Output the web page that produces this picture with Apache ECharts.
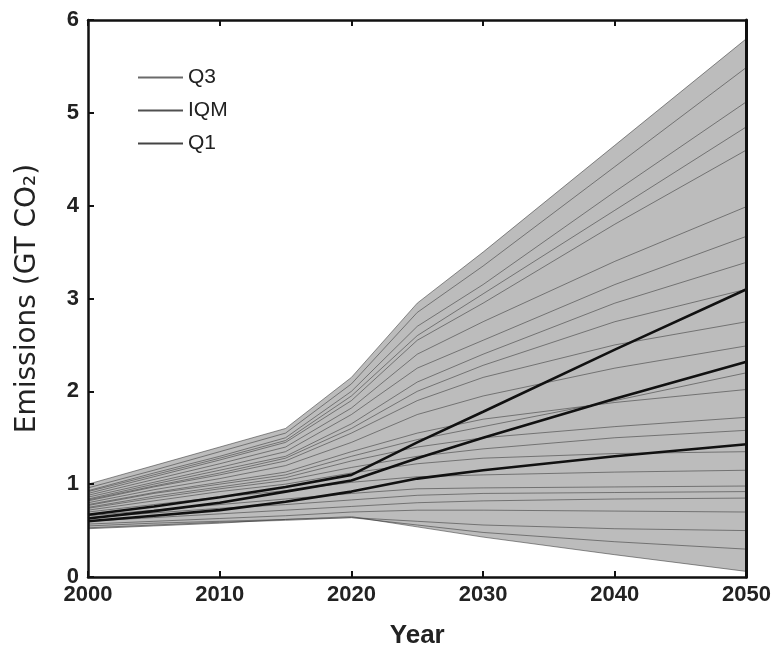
<!DOCTYPE html>
<html>
<head>
<meta charset="utf-8">
<script src="https://cdn.jsdelivr.net/npm/echarts@6/dist/echarts.min.js"></script>
<style>html,body{margin:0;padding:0;background:#fff;}#c{width:774px;height:654px;}</style>
</head>
<body>
<div id="c"></div>
<script>
const years = [2000, 2005, 2010, 2015, 2020, 2025, 2030, 2040, 2050];
const xTicks = [2000, 2010, 2020, 2030, 2040, 2050];
const yTicks = [0, 1, 2, 3, 4, 5, 6];

const envelopeUpper = [1.00, 1.20, 1.40, 1.60, 2.15, 2.95, 3.50, 4.65, 5.80];
const envelopeLower = [0.52, 0.55, 0.58, 0.62, 0.65, 0.54, 0.43, 0.24, 0.06];

const q3  = [0.67, 0.76, 0.86, 0.97, 1.10, 1.45, 1.78, 2.45, 3.10];
const iqm = [0.63, 0.71, 0.80, 0.92, 1.04, 1.28, 1.50, 1.92, 2.32];
const q1  = [0.60, 0.66, 0.72, 0.81, 0.92, 1.06, 1.15, 1.30, 1.43];

const s1  = [1.00, 1.20, 1.40, 1.60, 2.15, 2.95, 3.50, 4.65, 5.80];
const s2  = [0.96, 1.15, 1.35, 1.55, 2.08, 2.85, 3.35, 4.42, 5.49];
const s3  = [0.93, 1.12, 1.30, 1.50, 2.00, 2.70, 3.15, 4.15, 5.12];
const s4  = [0.92, 1.10, 1.28, 1.47, 1.95, 2.60, 3.05, 3.95, 4.85];
const s5  = [0.90, 1.08, 1.26, 1.45, 1.90, 2.55, 2.95, 3.80, 4.60];
const s6  = [0.88, 1.05, 1.22, 1.40, 1.82, 2.40, 2.75, 3.40, 3.99];
const s7  = [0.86, 1.02, 1.18, 1.35, 1.75, 2.25, 2.55, 3.15, 3.67];
const s8  = [0.84, 1.00, 1.15, 1.30, 1.65, 2.10, 2.40, 2.95, 3.39];
const s9  = [0.83, 0.98, 1.12, 1.28, 1.60, 2.00, 2.28, 2.75, 3.10];
const s10 = [0.82, 0.97, 1.10, 1.25, 1.55, 1.90, 2.15, 2.50, 2.75];
const s11 = [0.80, 0.94, 1.06, 1.20, 1.45, 1.75, 1.95, 2.25, 2.49];
const s12 = [0.77, 0.90, 1.00, 1.10, 1.30, 1.48, 1.62, 1.90, 2.20];
const s13 = [0.78, 0.91, 1.02, 1.13, 1.35, 1.55, 1.70, 1.88, 2.02];
const s14 = [0.75, 0.87, 0.97, 1.07, 1.25, 1.40, 1.50, 1.62, 1.72];
const s15 = [0.74, 0.85, 0.95, 1.04, 1.18, 1.30, 1.38, 1.50, 1.58];
const s16 = [0.72, 0.82, 0.92, 1.00, 1.12, 1.22, 1.28, 1.33, 1.35];
const s17 = [0.70, 0.78, 0.86, 0.93, 1.02, 1.08, 1.10, 1.13, 1.15];
const s18 = [0.66, 0.72, 0.78, 0.84, 0.90, 0.95, 0.96, 0.97, 0.98];
const s19 = [0.64, 0.69, 0.74, 0.78, 0.83, 0.88, 0.90, 0.91, 0.92];
const s20 = [0.60, 0.64, 0.68, 0.72, 0.76, 0.80, 0.82, 0.84, 0.85];
const s21 = [0.57, 0.60, 0.63, 0.66, 0.70, 0.72, 0.72, 0.71, 0.70];
const s22 = [0.55, 0.58, 0.60, 0.62, 0.64, 0.60, 0.56, 0.52, 0.50];
const s23 = [0.53, 0.56, 0.59, 0.61, 0.64, 0.56, 0.48, 0.38, 0.30];
const s24 = [0.52, 0.55, 0.58, 0.62, 0.65, 0.54, 0.43, 0.24, 0.06];

const scenarios = [s1,s2,s3,s4,s5,s6,s7,s8,s9,s10,s11,s12,s13,s14,s15,s16,s17,s18,s19,s20,s21,s22,s23,s24];

const pairs = arr => years.map((y, i) => [y, arr[i]]);
const FONT = '"Liberation Sans", Arial, sans-serif';

const series = [];
// envelope: gray area under the upper bound, white area under the lower bound
series.push({
  type: 'line', data: pairs(envelopeUpper), symbol: 'none', silent: true, z: 1,
  lineStyle: { width: 0 }, areaStyle: { color: '#bcbcbc', opacity: 1 }
});
series.push({
  type: 'line', data: pairs(envelopeLower), symbol: 'none', silent: true, z: 1.5,
  lineStyle: { width: 0 }, areaStyle: { color: '#ffffff', opacity: 1 }
});
scenarios.forEach(s => series.push({
  type: 'line', data: pairs(s), symbol: 'none', silent: true, z: 2,
  lineStyle: { color: '#333', width: 0.9, opacity: 0.6 }
}));
const bold = [['Q3', q3], ['IQM', iqm], ['Q1', q1]];
bold.forEach(([n, d]) => series.push({
  name: n, type: 'line', data: pairs(d), symbol: 'none', z: 3,
  lineStyle: { color: '#111', width: 2.6 }, itemStyle: { color: '#111' }
}));

const axisLineStyle = { show: true, onZero: false, lineStyle: { color: '#111', width: 2.5 } };
const tickStyle = { show: true, inside: true, length: 6, lineStyle: { color: '#111', width: 2 } };

const chart = echarts.init(document.getElementById('c'));
chart.setOption({
  animation: false,
  backgroundColor: '#fff',
  grid: { left: 88, right: 26, top: 20, bottom: 75 },
  legend: {
    data: [
      { name: 'Q3', itemStyle: { color: '#6a6a6a' } },
      { name: 'IQM', itemStyle: { color: '#505050' } },
      { name: 'Q1', itemStyle: { color: '#444' } }
    ],
    orient: 'vertical', left: 133, top: 62, itemWidth: 45, itemHeight: 20, itemGap: 12,
    icon: 'path://M0,0 L45,0 L45,2 L0,2 Z',
    textStyle: { fontFamily: FONT, fontSize: 21, color: '#222', padding: [0, 0, 0, 0] }
  },
  xAxis: [{
    type: 'value', min: 2000, max: 2050, interval: 10, position: 'bottom', z: 10,
    name: 'Year', nameLocation: 'middle', nameGap: 46,
    nameTextStyle: { fontFamily: FONT, fontSize: 26, fontWeight: 'bold', color: '#222' },
    axisLine: axisLineStyle, axisTick: tickStyle,
    axisLabel: { fontFamily: FONT, fontSize: 22, fontWeight: 'bold', color: '#222', margin: 7,
      customValues: xTicks, formatter: v => String(v) },
    splitLine: { show: false }
  }, {
    type: 'value', min: 2000, max: 2050, interval: 10, position: 'top', z: 10,
    axisLine: axisLineStyle, axisTick: tickStyle,
    axisLabel: { show: false }, splitLine: { show: false }
  }],
  yAxis: [{
    type: 'value', min: 0, max: 6, interval: 1, position: 'left', z: 10,
    name: 'Emissions (GT CO₂)', nameLocation: 'middle', nameGap: 46,
    nameTextStyle: { fontFamily: '"DejaVu Sans", sans-serif', fontSize: 28, color: '#222' },
    axisLine: axisLineStyle, axisTick: tickStyle,
    axisLabel: { fontFamily: FONT, fontSize: 22, fontWeight: 'bold', color: '#222', margin: 9,
      customValues: yTicks, formatter: v => String(v) },
    splitLine: { show: false }
  }, {
    type: 'value', min: 0, max: 6, interval: 1, position: 'right', z: 10,
    axisLine: { show: true, onZero: false, lineStyle: { color: '#111', width: 3 } },
    axisTick: { show: false }, axisLabel: { show: false }, splitLine: { show: false }
  }],
  series: series
});
</script>
</body>
</html>
